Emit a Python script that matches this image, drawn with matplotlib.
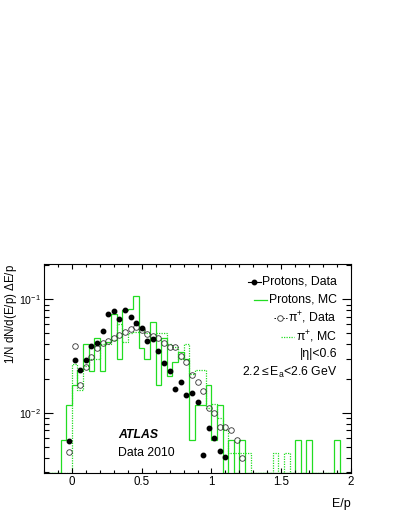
import numpy as np
import matplotlib
matplotlib.use('Agg')
import matplotlib.pyplot as plt
from matplotlib.ticker import MultipleLocator, LogLocator, NullFormatter, FuncFormatter
from matplotlib.lines import Line2D

plt.rcParams['font.family'] = ['Liberation Sans', 'DejaVu Sans']
plt.rcParams['mathtext.fontset'] = 'custom'
plt.rcParams['mathtext.rm'] = 'Liberation Sans'
plt.rcParams['mathtext.it'] = 'Liberation Sans:italic'

# E/p binning: 0.04 wide bins from -0.2 to 2.0
bin_lo, bin_hi, bin_w = -0.2, 2.0, 0.04

# protons MC (solid), bin centre -> value
pr_mc_x = [-0.06, -0.02, 0.02, 0.06, 0.10, 0.14, 0.18, 0.22, 0.26, 0.30, 0.34, 0.38, 0.42,
           0.46, 0.50, 0.54, 0.58, 0.62, 0.66, 0.70, 0.74, 0.78, 0.82, 0.86, 0.90, 0.94,
           0.98, 1.02, 1.06, 1.14, 1.22, 1.62, 1.70, 1.90]
pr_mc_y = [0.0058, 0.0117, 0.0175, 0.024, 0.040, 0.0235, 0.046, 0.0235, 0.042, 0.075, 0.030,
           0.080, 0.083, 0.108, 0.037, 0.030, 0.063, 0.0176, 0.046, 0.021, 0.028, 0.034, 0.030,
           0.0058, 0.0117, 0.0117, 0.0175, 0.0058, 0.0117, 0.0058, 0.0058, 0.0058, 0.0058,
           0.0058]

# pi+ MC (dotted)
pi_mc_x = [0.02, 0.06, 0.10, 0.14, 0.18, 0.22, 0.26, 0.30, 0.34, 0.38, 0.42, 0.46, 0.50,
           0.54, 0.58, 0.62, 0.66, 0.70, 0.74, 0.78, 0.82, 0.86, 0.90, 0.94, 0.98, 1.02,
           1.06, 1.10, 1.14, 1.18, 1.22, 1.26, 1.46, 1.54]
pi_mc_y = [0.027, 0.016, 0.026, 0.030, 0.030, 0.040, 0.040, 0.044, 0.060, 0.042, 0.050,
           0.052, 0.056, 0.050, 0.046, 0.050, 0.050, 0.040, 0.038, 0.030, 0.040, 0.022,
           0.024, 0.024, 0.011, 0.012, 0.009, 0.0071, 0.0044, 0.0044, 0.0044, 0.0044,
           0.0044, 0.0044]

# protons data (filled circles)
pr_data_x = [-0.02, 0.02, 0.06, 0.10, 0.14, 0.18, 0.22, 0.26, 0.30, 0.34, 0.38, 0.42, 0.46,
             0.50, 0.54, 0.58, 0.62, 0.66, 0.70, 0.74, 0.78, 0.82, 0.86, 0.90, 0.94, 0.98,
             1.02, 1.06, 1.10]
pr_data_y = [0.0056, 0.0293, 0.0238, 0.029, 0.0387, 0.0409, 0.0528, 0.0746, 0.0783, 0.0667,
             0.0805, 0.0698, 0.0622, 0.0555, 0.0431, 0.0444, 0.0352, 0.0273, 0.0233, 0.0162,
             0.0188, 0.0143, 0.0148, 0.0124, 0.0042, 0.0073, 0.0060, 0.0046, 0.0041]

# pi+ data (open circles)
pi_data_x = [-0.02, 0.02, 0.06, 0.10, 0.14, 0.18, 0.22, 0.26, 0.30, 0.34, 0.38, 0.42, 0.46,
             0.50, 0.54, 0.58, 0.62, 0.66, 0.70, 0.74, 0.78, 0.82, 0.86, 0.90, 0.94, 0.98,
             1.02, 1.06, 1.10, 1.14, 1.18, 1.22]
pi_data_y = [0.0045, 0.039, 0.0175, 0.0253, 0.0308, 0.037, 0.0412, 0.0429, 0.0459, 0.0484,
             0.0512, 0.0544, 0.0574, 0.0536, 0.0491, 0.0475, 0.0459, 0.0414, 0.0382, 0.0377,
             0.0316, 0.0282, 0.0216, 0.0185, 0.0155, 0.0109, 0.0100, 0.0075, 0.0075, 0.0070,
             0.0057, 0.0040]

y_lo, y_hi = 0.00294, 0.205
green = '#22dd22'

nbins = int(round((bin_hi - bin_lo) / bin_w))
edges = bin_lo + bin_w * np.arange(nbins + 1)


def fill_bins(xs, ys):
    # empty bins are drawn on the bottom of the frame, like ROOT does
    vals = np.full(nbins, y_lo)
    for x, y in zip(xs, ys):
        vals[int((x - bin_lo) // bin_w)] = y
    return vals


fig = plt.figure(figsize=(3.99, 5.16), dpi=100)
ax = fig.add_axes([44 / 399, 1 - 473 / 516, 307 / 399, 209 / 516])

ax.stairs(fill_bins(pi_mc_x, pi_mc_y), edges, baseline=None, color=green, lw=0.9, ls=(0, (1, 1)))
ax.stairs(fill_bins(pr_mc_x, pr_mc_y), edges, baseline=None, color=green, lw=0.9)
ax.plot(pi_data_x, pi_data_y, 'o', ms=4.0, mfc='none', mec='#333333', mew=0.6)
ax.plot(pr_data_x, pr_data_y, 'o', ms=3.2, color='black')

ax.set_yscale('log')
ax.set_xlim(bin_lo, bin_hi)
ax.set_ylim(y_lo, y_hi)

ax.xaxis.set_major_locator(MultipleLocator(0.5))
ax.xaxis.set_minor_locator(MultipleLocator(0.1))
ax.xaxis.set_major_formatter(FuncFormatter(lambda v, p: '%g' % v))
ax.yaxis.set_major_locator(LogLocator(base=10))
ax.yaxis.set_minor_locator(LogLocator(base=10, subs=np.arange(2, 10)))
ax.yaxis.set_minor_formatter(NullFormatter())

ax.tick_params(which='both', direction='in', top=True, right=True, width=0.8)
ax.tick_params(axis='x', which='major', length=3.8, pad=2.5, labelsize=8.3)
ax.tick_params(axis='x', which='minor', length=2.0)
ax.tick_params(axis='y', which='major', length=6.5, pad=2.5, labelsize=7.6)
ax.tick_params(axis='y', which='minor', length=3.4)
for s in ax.spines.values():
    s.set_linewidth(0.8)

ax.set_xlabel('E/p', fontsize=9, ha='right', x=1.0, labelpad=7)
fig.text(11 / 399, 1 - 264 / 516, r'1/N dN/d(E/p) $\mathregular{\Delta}$E/p', rotation=90,
         ha='center', va='top', fontsize=8.3)

ax.text(0.241, 0.182, 'ATLAS', transform=ax.transAxes, fontsize=8.8, fontweight='bold',
        fontstyle='italic', va='center')
ax.text(0.241, 0.097, 'Data 2010', transform=ax.transAxes, fontsize=8.8, va='center')

# legend block, right aligned like the ROOT TLegend
leg_labels = ['Protons, Data', 'Protons, MC', r'$\mathregular{\pi^{+}}$, Data',
              r'$\mathregular{\pi^{+}}$, MC', '|η|<0.6',
              r'2.2$\mathregular{\leq}$E$\mathregular{_a}$<2.6 GeV']
leg_y = [0.915, 0.828, 0.740, 0.652, 0.568, 0.482]
texts = [ax.text(0.954, y, s, transform=ax.transAxes, ha='right', va='center', fontsize=8.8)
         for s, y in zip(leg_labels, leg_y)]

fig.canvas.draw()
rend = fig.canvas.get_renderer()
inv = ax.transAxes.inverted()
handle_style = [
    dict(color='black', lw=0.8, marker='o', ms=3.2),
    dict(color=green, lw=0.9),
    dict(color='black', lw=0.7, ls=(0, (1.5, 1.5)), marker='o', ms=4.0, mfc='white', mew=0.6,
         mec='#333333'),
    dict(color=green, lw=0.9, ls=(0, (1, 1))),
]
for t, y, st in zip(texts[:4], leg_y, handle_style):
    bb = t.get_window_extent(rend)
    x1 = inv.transform((bb.x0 - 1.5, 0))[0]
    x0 = inv.transform((bb.x0 - 14.5, 0))[0]
    ax.add_line(Line2D([x0, x1], [y, y], transform=ax.transAxes, markevery=[], **st))
    if 'marker' in st:
        ax.add_line(Line2D([(x0 + x1) / 2], [y], transform=ax.transAxes, **st))

fig.savefig('out.png', dpi=100)
